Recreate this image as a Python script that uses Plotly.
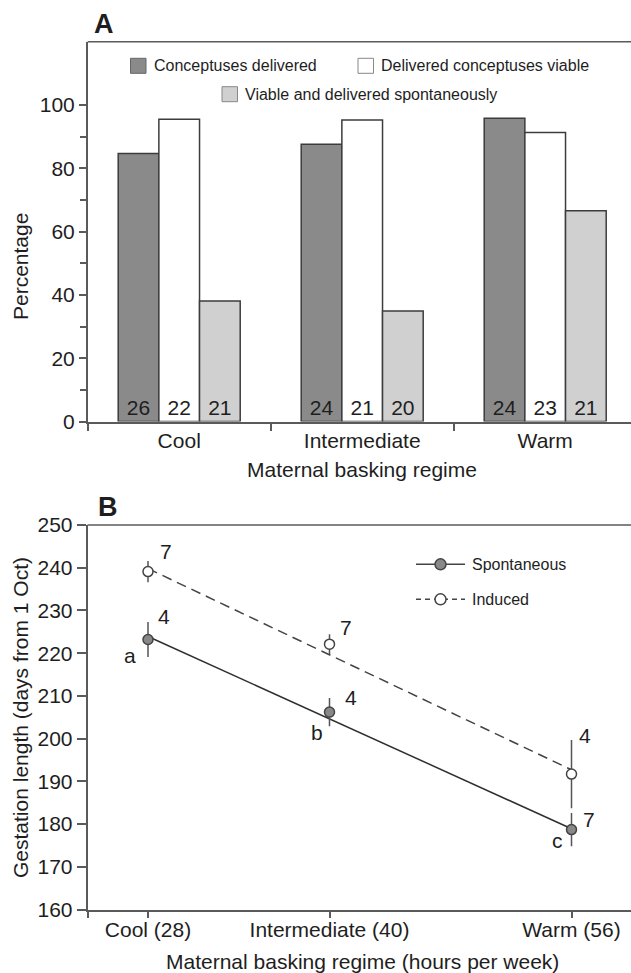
import plotly.graph_objects as go

# ---------------- data ----------------
# Panel A
regimes = ["Cool", "Intermediate", "Warm"]
pct_delivered = [84.7, 87.6, 95.8]
pct_viable = [95.5, 95.3, 91.3]
pct_spontaneous = [38.1, 34.9, 66.6]
n_delivered = [26, 24, 24]
n_viable = [22, 21, 23]
n_spontaneous = [21, 20, 21]
series_names_a = ["Conceptuses delivered", "Delivered conceptuses viable",
                  "Viable and delivered spontaneously"]

# Panel B
hours = [28, 40, 56]
hour_labels = ["Cool (28)", "Intermediate (40)", "Warm (56)"]
spont_mean = [223.2, 206.2, 178.7]
spont_err = [4.1, 3.3, 3.9]
spont_n = ["4", "4", "7"]
spont_letters = ["a", "b", "c"]
induced_mean = [239.1, 222.1, 191.7]
induced_err = [2.5, 2.3, 8.0]
induced_n = ["7", "7", "4"]
fit_x = [28, 56]
spont_fit = [223.9, 178.9]
induced_fit = [239.8, 192.7]
y_ticks_a = [0, 20, 40, 60, 80, 100]
y_minor_a = [10, 30, 50, 70, 90]
y_ticks_b = [160, 170, 180, 190, 200, 210, 220, 230, 240, 250]

# ---------------- layout helpers ----------------
W, H = 631, 973
FONT = "Liberation Sans, Arial, sans-serif"
TXT = "#1e1e1e"
AX = "#5a5a5a"
DARK = "#8a8a8a"
LIGHT = "#d0d0d0"
EDGE = "#3c3c3c"


def px(x):
    return x / W


def py(y):
    return 1 - y / H


# plot areas in pixels
A_left, A_top, A_bot = 87.7, 41.7, 421.5
B_left, B_top, B_bot = 87.5, 525.0, 909.5
cat_w = 183.0
hr_w = 15.125

fig = go.Figure()

# ---------------- Panel A bars ----------------
for vals, ns, col in [(pct_delivered, n_delivered, DARK),
                      (pct_viable, n_viable, "#ffffff"),
                      (pct_spontaneous, n_spontaneous, LIGHT)]:
    fig.add_trace(go.Bar(
        x=regimes, y=vals, text=[str(v) for v in ns],
        textposition="inside", insidetextanchor="start", textangle=0,
        constraintext="none",
        textfont=dict(family=FONT, size=21, color=TXT),
        marker=dict(color=col, line=dict(color=EDGE, width=1.5)),
        xaxis="x", yaxis="y", showlegend=False, cliponaxis=False,
    ))

# ---------------- Panel B ----------------
fig.add_trace(go.Scatter(x=fit_x, y=spont_fit, mode="lines",
                         line=dict(color="#2e2e2e", width=1.5),
                         xaxis="x2", yaxis="y2", showlegend=False))
fig.add_trace(go.Scatter(x=fit_x, y=induced_fit, mode="lines",
                         line=dict(color="#444444", width=1.5, dash="10px,6px"),
                         xaxis="x2", yaxis="y2", showlegend=False))
fig.add_trace(go.Scatter(
    x=hours, y=induced_mean, mode="markers",
    error_y=dict(type="data", array=induced_err, width=0, thickness=1.5, color="#555555"),
    marker=dict(symbol="circle", size=10, color="#ffffff", line=dict(color="#444444", width=1.5)),
    xaxis="x2", yaxis="y2", showlegend=False, cliponaxis=False))
fig.add_trace(go.Scatter(
    x=hours, y=spont_mean, mode="markers",
    error_y=dict(type="data", array=spont_err, width=0, thickness=1.5, color="#555555"),
    marker=dict(symbol="circle", size=10, color="#888888", line=dict(color="#444444", width=1.5)),
    xaxis="x2", yaxis="y2", showlegend=False, cliponaxis=False))

annotations = []
shapes = []


def label(x, y, text, size=21, xanchor="center", yanchor="middle", angle=0, bold=False):
    t = f"<b>{text}</b>" if bold else text
    annotations.append(dict(x=px(x), y=py(y), xref="paper", yref="paper", text=t,
                            showarrow=False, xanchor=xanchor, yanchor=yanchor,
                            textangle=angle, font=dict(family=FONT, size=size, color=TXT)))


# point annotations (n and letters) placed relative to data points
ind_shift = [(18, 20), (16, 17), (13, 39)]
sp_shift = [(16, 23), (21, 15), (17, 10)]
let_shift = [(-18, -16), (-13, -20), (-14, -11)]
for i in range(3):
    for yv, txt, (dx, dy) in [(induced_mean[i], induced_n[i], ind_shift[i]),
                              (spont_mean[i], spont_n[i], sp_shift[i]),
                              (spont_mean[i], spont_letters[i], let_shift[i])]:
        annotations.append(dict(x=hours[i], y=yv, xref="x2", yref="y2", text=txt,
                                showarrow=False, xshift=dx, yshift=dy,
                                font=dict(family=FONT, size=21, color=TXT)))

# panel letters
label(92, 24, "A", size=27, xanchor="left", bold=True)
label(96, 507, "B", size=27, xanchor="left", bold=True)

# axis titles
label(20, 267, "Percentage", angle=-90)
label(362, 470, "Maternal basking regime")
label(20, 718, "Gestation length (days from 1 Oct)", angle=-90)
label(362, 961, "Maternal basking regime (hours per week)")

# top frame lines of both panels (no right-hand frame in the original)
for left, top in [(A_left, A_top), (B_left, B_top)]:
    shapes.append(dict(type="line", xref="paper", yref="paper",
                       x0=px(left), x1=1, y0=py(top), y1=py(top),
                       line=dict(color=AX, width=1.5)))

# legend A
leg_a = [(130.5, 65.8, DARK, "#666666", series_names_a[0]),
         (358.0, 65.8, "#ffffff", "#888888", series_names_a[1]),
         (222.0, 94.2, LIGHT, "#888888", series_names_a[2])]
for x0, yc, fill, lc, name in leg_a:
    shapes.append(dict(type="rect", xref="paper", yref="paper",
                       x0=px(x0), x1=px(x0 + 15.5), y0=py(yc - 7.5), y1=py(yc + 7.5),
                       fillcolor=fill, line=dict(color=lc, width=1)))
    label(x0 + 21, yc, name, size=16, xanchor="left")

# legend B
for yc, dash, fill, name in [(564.3, "solid", "#888888", "Spontaneous"),
                             (599.3, "5px,4px", "#ffffff", "Induced")]:
    shapes.append(dict(type="line", xref="paper", yref="paper",
                       x0=px(416), x1=px(465), y0=py(yc), y1=py(yc),
                       line=dict(color="#444444", width=1.5, dash=dash)))
    shapes.append(dict(type="circle", xref="paper", yref="paper",
                       xsizemode="pixel", ysizemode="pixel",
                       xanchor=px(440.5), yanchor=py(yc),
                       x0=-5.5, x1=5.5, y0=-5.5, y1=5.5,
                       fillcolor=fill, line=dict(color="#444444", width=1.5)))
    label(470, yc, name, size=16, xanchor="left")

axis_common = dict(showgrid=False, zeroline=False, showline=True, linecolor=AX,
                   linewidth=1.5, ticks="outside", tickcolor=AX, tickwidth=1.5,
                   mirror=False,
                   tickfont=dict(family=FONT, size=21, color=TXT))

fig.update_layout(
    width=W, height=H, margin=dict(l=0, r=0, t=0, b=0, autoexpand=False),
    paper_bgcolor="white", plot_bgcolor="white",
    barmode="group", bargap=1 / 3, bargroupgap=0,
    xaxis=dict(**axis_common, type="category", categoryorder="array", categoryarray=regimes,
               range=[-0.5, -0.5 + (W - A_left) / cat_w], domain=[px(A_left), 1],
               tickson="boundaries", ticklen=8, anchor="y"),
    yaxis=dict(**axis_common, range=[0, 120], domain=[py(A_bot), py(A_top)],
               tickvals=y_ticks_a, ticklen=7, anchor="x",
               minor=dict(tickvals=y_minor_a, ticks="outside", ticklen=6,
                          tickcolor=AX, tickwidth=1.5)),
    xaxis2=dict(**axis_common, range=[24, 24 + (W - B_left) / hr_w], domain=[px(B_left), 1],
                tickvals=[24] + hours, ticktext=[""] + hour_labels, ticklen=7,
                ticklabelstandoff=-6, anchor="y2"),
    yaxis2=dict(**axis_common, range=[160, 250], domain=[py(B_bot), py(B_top)],
                tickvals=y_ticks_b, ticklen=9, anchor="x2"),
    annotations=annotations, shapes=shapes,
)

fig.write_html("out.html", config={"displayModeBar": False})
